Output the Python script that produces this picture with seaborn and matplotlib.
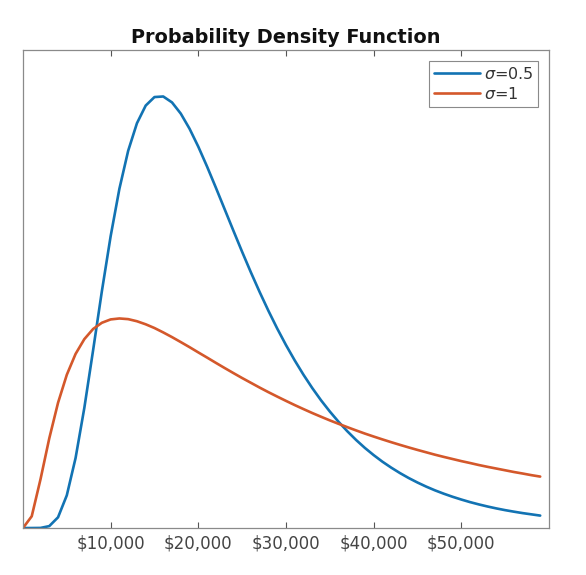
import matplotlib
matplotlib.use("Agg")
import matplotlib.pyplot as plt
import matplotlib.ticker as mticker
import pandas as pd
import seaborn as sns

# income grid (dollars), one sample every $1,000
income = list(range(0, 60000, 1000))

# density values, in units of 1e-5
pdf_sigma_05 = [
    0.000, 0.000, 0.001, 0.020, 0.112, 0.342, 0.732, 1.257, 1.860, 2.477,
    3.052, 3.549, 3.946, 4.234, 4.419, 4.508, 4.514, 4.452, 4.335, 4.177,
    3.989, 3.781, 3.561, 3.336, 3.111, 2.889, 2.674, 2.468, 2.272, 2.087,
    1.914, 1.753, 1.603, 1.464, 1.336, 1.219, 1.111, 1.012, 0.921, 0.838,
    0.763, 0.694, 0.632, 0.575, 0.523, 0.476, 0.433, 0.394, 0.359, 0.327,
    0.298, 0.271, 0.247, 0.225, 0.205, 0.187, 0.171, 0.156, 0.143, 0.130,
]
pdf_sigma_1 = [
    0.000, 0.123, 0.510, 0.938, 1.310, 1.603, 1.821, 1.976, 2.082, 2.147,
    2.182, 2.192, 2.185, 2.163, 2.131, 2.092, 2.046, 1.997, 1.945, 1.892,
    1.837, 1.783, 1.728, 1.674, 1.621, 1.569, 1.519, 1.469, 1.421, 1.375,
    1.330, 1.286, 1.244, 1.203, 1.164, 1.126, 1.090, 1.055, 1.021, 0.988,
    0.957, 0.927, 0.898, 0.870, 0.843, 0.817, 0.792, 0.767, 0.744, 0.722,
    0.700, 0.680, 0.659, 0.640, 0.622, 0.604, 0.586, 0.570, 0.553, 0.538,
]
series_labels = [r"$\sigma$=0.5", r"$\sigma$=1"]
tick_values = [10000, 20000, 30000, 40000, 50000]

df = pd.concat([
    pd.DataFrame({"income": income, "pdf": pdf_sigma_05, "sigma": series_labels[0]}),
    pd.DataFrame({"income": income, "pdf": pdf_sigma_1, "sigma": series_labels[1]}),
], ignore_index=True)

sns.set_style("white")
plt.rcParams["font.family"] = ["DejaVu Sans"]

fig = plt.figure(figsize=(5.86, 5.75), dpi=100)
ax = fig.add_axes([0.0392, 0.0817, 0.8976, 0.8313])

sns.lineplot(
    data=df, x="income", y="pdf", hue="sigma",
    palette=["#1273B3", "#D4582B"], linewidth=1.9, ax=ax,
)

ax.set_xlim(0, 60000)
ax.set_ylim(0, 5.0)
ax.set_xticks(tick_values)
ax.xaxis.set_major_formatter(mticker.FuncFormatter(lambda v, p: f"${v:,.0f}"))
ax.set_yticks([])
ax.tick_params(axis="x", direction="in", length=4, width=0.8, color="#555555",
               top=True, bottom=True, labelsize=12, labelcolor="#444444", pad=5)
ax.set_xlabel("")
ax.set_ylabel("")
for s in ax.spines.values():
    s.set_visible(True)
    s.set_color("#8a8a8a")
    s.set_linewidth(0.9)

ax.set_title("Probability Density Function", fontsize=13.9, fontweight="bold",
             color="#111111", pad=5)

leg = ax.legend(loc="upper right", bbox_to_anchor=(0.979, 0.977), borderaxespad=0,
                fontsize=11.5, handlelength=2.9, handletextpad=0.2, labelspacing=0.25,
                borderpad=0.3, fancybox=False, framealpha=1, edgecolor="#8a8a8a",
                title=None)
leg.get_frame().set_linewidth(0.8)
for t in leg.get_texts():
    t.set_color("#333333")

fig.savefig("out.png", dpi=100, facecolor="white")
